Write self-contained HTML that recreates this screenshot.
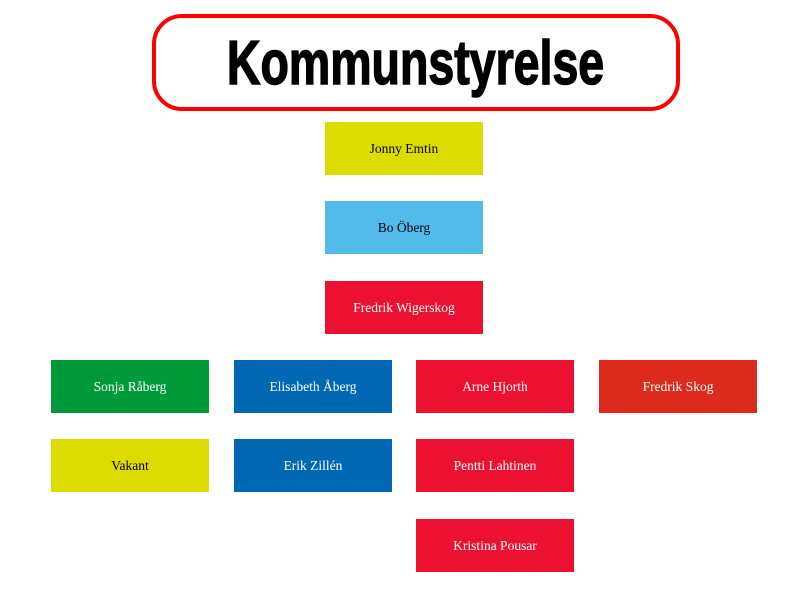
<!DOCTYPE html>
<html><head><meta charset="utf-8"><style>
body{margin:0;width:800px;height:600px;background:#fff;position:relative;overflow:hidden}
.t{position:absolute;left:152px;top:14px;width:520px;height:89px;border:4px solid #f00;border-radius:30px;display:flex;align-items:center;justify-content:center}
.t span{font-family:"Liberation Sans",sans-serif;font-weight:bold;font-size:62px;letter-spacing:0;transform:scaleX(0.75);display:inline-block;margin-top:2px;-webkit-text-stroke:1.5px #000;white-space:nowrap}
.b{position:absolute;width:158px;height:53px;display:flex;align-items:center;justify-content:center;font-family:"Liberation Serif",serif;font-size:13.5px;color:#fff}
.y{background:#dcdc00;color:#000}.c{background:#52bbeb;color:#000}.r{background:#ec1131}.g{background:#009a3a}.bl{background:#0068b2}.o{background:#dc2a1d}
</style></head><body>
<div class="t"><span>Kommunstyrelse</span></div>
<div class="b y" style="left:325px;top:122px">Jonny Emtin</div>
<div class="b c" style="left:325px;top:201px">Bo Öberg</div>
<div class="b r" style="left:325px;top:281px">Fredrik Wigerskog</div>
<div class="b g" style="left:51px;top:360px">Sonja Råberg</div>
<div class="b bl" style="left:234px;top:360px">Elisabeth Åberg</div>
<div class="b r" style="left:416px;top:360px">Arne Hjorth</div>
<div class="b o" style="left:599px;top:360px">Fredrik Skog</div>
<div class="b y" style="left:51px;top:439px">Vakant</div>
<div class="b bl" style="left:234px;top:439px">Erik Zillén</div>
<div class="b r" style="left:416px;top:439px">Pentti Lahtinen</div>
<div class="b r" style="left:416px;top:519px">Kristina Pousar</div>
</body></html>
